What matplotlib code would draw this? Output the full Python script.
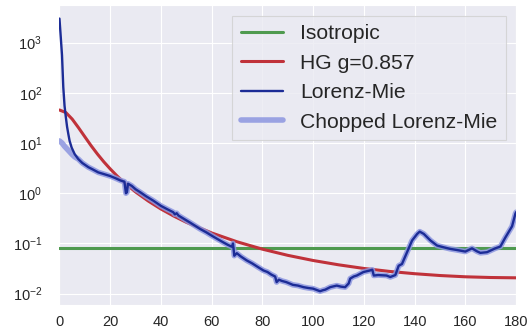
import matplotlib
matplotlib.use("Agg")
import matplotlib.pyplot as plt
import seaborn as sns

# Isotropic phase function (flat)
iso_angles = [0, 180]
iso_values = [0.08, 0.08]

# Henyey-Greenstein g=0.857, values
hg_angles = [0, 2.5, 5, 7.5, 10, 12.5, 15, 17.5, 20, 22.5, 25, 30, 35, 40, 45, 50,
             60, 70, 80, 90, 100, 110, 120, 130, 140, 150, 160, 170, 180]
hg_values = [45.4, 40.5, 30.0, 20.2, 13.3, 8.8, 6.0, 4.21, 3.05, 2.26, 1.72, 1.06,
             0.70, 0.485, 0.352, 0.264, 0.162, 0.108, 0.077, 0.058, 0.0458, 0.0376,
             0.0318, 0.0278, 0.0250, 0.0230, 0.0217, 0.0210, 0.0207]

# Lorenz-Mie
mie_angles = [0, 0.5, 1.0, 1.5, 2.0, 2.5, 3.0, 3.5, 4.0, 4.8, 6.0, 7.4, 9.0, 11.4,
              13, 15.3, 17, 20, 22, 24, 25.6, 26.2, 26.6, 27.0, 28.5, 30, 31.8, 34,
              37, 40, 42.5, 44.8, 45.5, 46.2, 46.9, 49, 51.5, 55.4, 58, 60, 62, 64.6,
              66.5, 68.0, 68.4, 68.9, 69.9, 71.5, 73.8, 76, 77.8, 80.4, 82, 83.5, 85,
              85.6, 86.5, 87.6, 89.4, 92, 94, 96.2, 98, 100, 101.5, 102.7, 104, 104.7,
              106.7, 109.3, 111, 112.6, 114, 114.6, 116, 117.2, 119.8, 122.4, 123.3,
              123.9, 125.6, 128.9, 130.4, 132.4, 133.7, 135, 137, 139, 141, 142, 143.6,
              146.2, 148.8, 151.4, 154, 156.7, 160, 162.6, 164.5, 165.9, 168.5, 171.8,
              173.8, 175.7, 178.4, 179.7, 180]
mie_values = [3000, 1300, 560, 130, 55, 33, 21, 15, 11, 8.1, 6.0, 4.8, 4.0, 3.3,
              3.0, 2.6, 2.45, 2.2, 2.0, 1.8, 1.7, 1.0, 1.05, 1.55, 1.4, 1.2, 1.05, 0.88,
              0.71, 0.56, 0.48, 0.42, 0.38, 0.40, 0.36, 0.31, 0.26, 0.195, 0.165, 0.143,
              0.125, 0.105, 0.093, 0.086, 0.1, 0.057, 0.064, 0.055, 0.046, 0.04, 0.035,
              0.029, 0.027, 0.024, 0.022, 0.017, 0.019, 0.018, 0.017, 0.015, 0.0145,
              0.0135, 0.013, 0.0126, 0.0118, 0.0112, 0.0118, 0.012, 0.0135, 0.0145,
              0.0138, 0.0135, 0.016, 0.02, 0.022, 0.023, 0.027, 0.029, 0.030, 0.023,
              0.0235, 0.023, 0.0215, 0.0235, 0.036, 0.039, 0.067, 0.115, 0.155, 0.172,
              0.155, 0.115, 0.091, 0.084, 0.078, 0.074, 0.069, 0.080, 0.070, 0.065,
              0.067, 0.080, 0.087, 0.13, 0.22, 0.39, 0.42]

# chopped version: forward peak replaced, rest follows Lorenz-Mie
chop_head_angles = [0, 1, 2, 3, 4, 5, 6]
chop_head_values = [11, 10, 8.6, 7.6, 6.7, 5.9, 5.3]
chop_angles = chop_head_angles + [a for a in mie_angles if a >= 7.4]
chop_values = chop_head_values + [v for a, v in zip(mie_angles, mie_values) if a >= 7.4]

sns.set_style("darkgrid")
plt.rcParams['font.family'] = ['Liberation Sans', 'DejaVu Sans']

fig = plt.figure(figsize=(5.31, 3.31), dpi=100)
ax = fig.add_axes([0.112, 0.079, 0.86, 0.906])

ax.plot(iso_angles, iso_values, color='#4f9a4f', lw=2.2, label='Isotropic', zorder=3)
ax.plot(hg_angles, hg_values, color='#c0323a', lw=2.2, label='HG g=0.857', zorder=3)
ax.plot(mie_angles, mie_values, color='#1c2c96', lw=1.7, label='Lorenz-Mie', zorder=5)
ax.plot(chop_angles, chop_values, color='#8c96e0', lw=4.0, alpha=0.85,
        label='Chopped Lorenz-Mie', zorder=4)

ax.set_yscale('log')
ax.set_xlim(0, 180)
ax.set_xticks([0, 20, 40, 60, 80, 100, 120, 140, 160, 180])
ax.tick_params(labelsize=10.5, colors='#262626')
ax.tick_params(axis='x', pad=4)
ax.tick_params(axis='y', pad=9)

leg = ax.legend(loc='upper right', fontsize=15.2, frameon=True, fancybox=False,
                facecolor='#eaeaf2', edgecolor='#d0d0d0', framealpha=0.8)
leg.get_frame().set_linewidth(0.8)

fig.savefig('out.png', dpi=100)
